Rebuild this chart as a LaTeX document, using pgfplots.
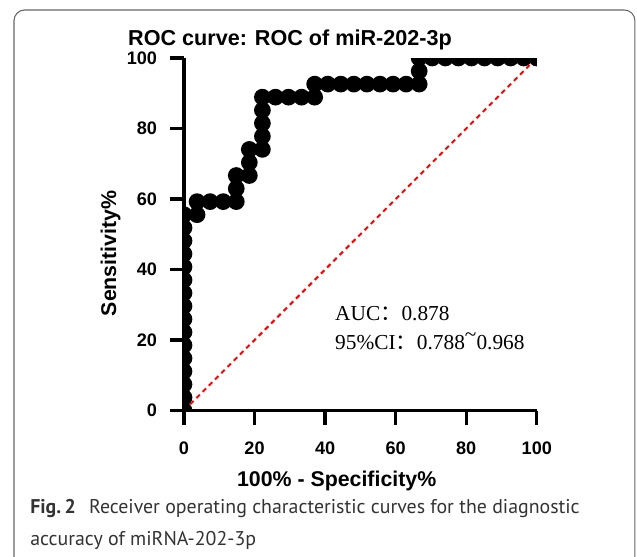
\documentclass[border=0pt]{standalone}
\usepackage{fontspec}
\setmainfont{Liberation Sans}
\newfontfamily\capfont{PT Sans}
\newfontfamily\aucfont{Liberation Serif}
\newfontfamily\cjk{Noto Sans CJK SC}
\usepackage{pgfplots}
\pgfplotsset{compat=1.18}
\definecolor{capgray}{HTML}{333333}
\definecolor{boxgray}{HTML}{666666}

\begin{document}
\begin{tikzpicture}
% frame around figure (bottom edge falls off the page)
\draw[boxgray, line width=0.8pt, rounded corners=8pt] (10.5pt,-440pt) rectangle (476.2pt,-7.5pt);

\begin{axis}[
    at={(138pt,-307.9pt)}, anchor=south west,
    scale only axis, width=264.6pt, height=264.4pt,
    xmin=0, xmax=100, ymin=0, ymax=100,
    axis x line=bottom, axis y line=left,
    axis line style={line width=2.5pt, -},
    xtick={0,20,...,100}, ytick={0,20,...,100},
    tick align=outside, major tick length=10.5pt,
    tick style={line width=2.5pt, black},
    /pgf/number format/assume math mode=true,
    ticklabel style={font=\fontsize{13.6}{15}\selectfont\bfseries, inner sep=0pt},
    xticklabel style={anchor=north, yshift=-12.6pt},
    yticklabel style={anchor=east, xshift=-9.5pt},
    clip marker paths=true,
]
\addplot[red, line width=1.5pt, dash pattern=on 3.6pt off 3pt] coordinates {(0,0) (100,100)};
\addplot[black, line width=2.5pt, mark=*, mark size=5pt] coordinates {
  (0,0) (0,3.704) (0,7.407) (0,11.111) (0,14.815) (0,18.519) (0,22.222) (0,25.926)
  (0,29.630) (0,33.333) (0,37.037) (0,40.741) (0,44.444) (0,48.148) (0,51.852) (0,55.556)
  (3.704,55.556) (3.704,59.259) (7.407,59.259) (11.111,59.259) (14.815,59.259)
  (14.815,62.963) (14.815,66.667) (18.519,66.667) (18.519,70.370) (18.519,74.074)
  (22.222,74.074) (22.222,77.778) (22.222,81.481) (22.222,85.185) (22.222,88.889)
  (25.926,88.889) (29.630,88.889) (33.333,88.889) (37.037,88.889)
  (37.037,92.593) (40.741,92.593) (44.444,92.593) (48.148,92.593) (51.852,92.593)
  (55.556,92.593) (59.259,92.593) (62.963,92.593) (66.667,92.593)
  (66.667,96.296) (66.667,100) (70.370,100) (74.074,100) (77.778,100) (81.481,100)
  (85.185,100) (88.889,100) (92.593,100) (96.296,100) (100,100)
};
\end{axis}

\node[anchor=base, inner sep=0pt, font=\fontsize{16.2}{18}\selectfont\bfseries] at (217.5pt,-33.8pt) {ROC curve: ROC of miR-202-3p};
\node[anchor=base, inner sep=0pt, font=\fontsize{16}{18}\selectfont\bfseries] at (252.5pt,-364.5pt) {100\% - Specificity\%};
\node[anchor=base, inner sep=0pt, rotate=90, font=\fontsize{16}{18}\selectfont\bfseries] at (87pt,-190pt) {Sensitivity\%};

\node[anchor=base west, inner sep=0pt, font=\fontsize{16}{18}\aucfont] at (251.2pt,-240pt) {AUC{\cjk ：}0.878};
\node[anchor=base west, inner sep=0pt, font=\fontsize{16}{18}\aucfont] at (251.2pt,-262pt) {95\%CI{\cjk ：}0.788\raisebox{0.35em}{\textasciitilde}0.968};

\node[anchor=base west, inner sep=0pt, text=capgray, font=\fontsize{14.9}{17}\capfont] at (22.5pt,-384.8pt) {\textbf{Fig.\,2}\hspace{6pt} Receiver operating characteristic curves for the diagnostic};
\node[anchor=base west, inner sep=0pt, text=capgray, font=\fontsize{14.9}{17}\capfont] at (22.5pt,-408.8pt) {accuracy of miRNA-202-3p};

\pgfresetboundingbox
\path[use as bounding box] (0,0) rectangle (477.75pt,-417.75pt);
\end{tikzpicture}
\end{document}
